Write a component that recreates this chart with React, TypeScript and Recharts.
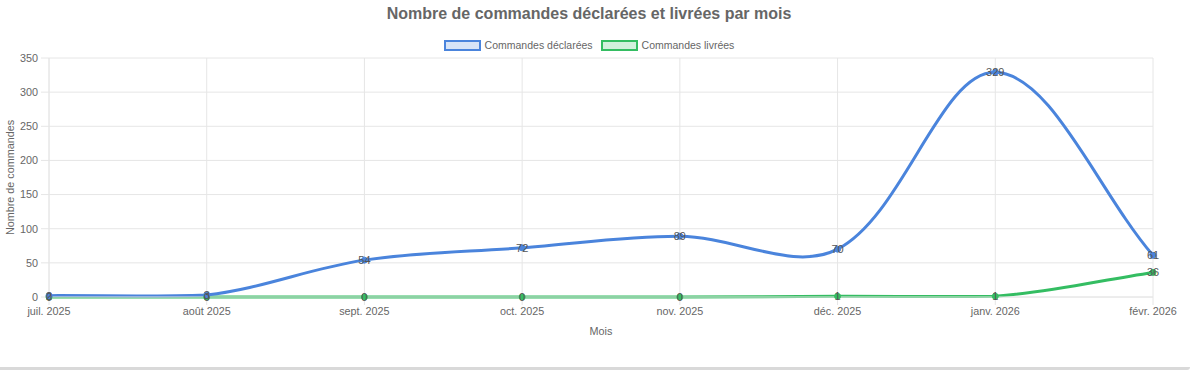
import { LineChart, Line, XAxis, YAxis, CartesianGrid } from 'recharts'

const months = ['juil. 2025', 'août 2025', 'sept. 2025', 'oct. 2025', 'nov. 2025', 'déc. 2025', 'janv. 2026', 'févr. 2026']
const declared = [2, 3, 54, 72, 89, 70, 329, 61]
const delivered = [0, 0, 0, 0, 0, 1, 1, 36]
const yTicks = [0, 50, 100, 150, 200, 250, 300, 350]

const series = [
  { key: 'declared', name: 'Commandes déclarées', color: '#4a84dc', fill: 'rgba(74,132,220,0.22)' },
  { key: 'delivered', name: 'Commandes livrées', color: '#34bd62', fill: 'rgba(52,189,98,0.22)' },
]

const data = months.map((m, i) => ({ month: m, declared: declared[i], delivered: delivered[i] }))

const FONT = "'Liberation Sans', Arial, sans-serif"
const GRID = '#e6e6e6'
const TEXT = '#666'

const TOP = 58
const BOTTOM_AXIS = 40
const BOTTOM_MARGIN = 33
const HEIGHT = 370
const PLOT_BOTTOM = HEIGHT - BOTTOM_MARGIN - BOTTOM_AXIS

// chart.js style spline (tension + capped control points)
function splineCurve(tension: number, minY: number, maxY: number) {
  return (context: any) => {
    let xs: number[] = []
    let ys: number[] = []
    return {
      areaStart() {},
      areaEnd() {},
      lineStart() {
        xs = []
        ys = []
      },
      point(x: number, y: number) {
        xs.push(+x)
        ys.push(+y)
      },
      lineEnd() {
        const n = xs.length
        if (!n) return
        const c1x: number[] = [], c1y: number[] = [], c2x: number[] = [], c2y: number[] = []
        for (let i = 0; i < n; i++) {
          const p = Math.max(i - 1, 0)
          const q = Math.min(i + 1, n - 1)
          const d01 = Math.hypot(xs[i] - xs[p], ys[i] - ys[p])
          const d12 = Math.hypot(xs[q] - xs[i], ys[q] - ys[i])
          let s01 = d01 / (d01 + d12)
          let s12 = d12 / (d01 + d12)
          if (isNaN(s01)) s01 = 0
          if (isNaN(s12)) s12 = 0
          const fa = tension * s01
          const fb = tension * s12
          const clamp = (v: number) => Math.min(Math.max(v, minY), maxY)
          c1x[i] = xs[i] - fa * (xs[q] - xs[p])
          c1y[i] = clamp(ys[i] - fa * (ys[q] - ys[p]))
          c2x[i] = xs[i] + fb * (xs[q] - xs[p])
          c2y[i] = clamp(ys[i] + fb * (ys[q] - ys[p]))
        }
        context.moveTo(xs[0], ys[0])
        for (let i = 1; i < n; i++) {
          context.bezierCurveTo(c2x[i - 1], c2y[i - 1], c1x[i], c1y[i], xs[i], ys[i])
        }
      },
    }
  }
}

const curve = splineCurve(0.35, TOP, PLOT_BOTTOM)

const renderValue = (props: any) => {
  const { x, y, value, index } = props
  return (
    <text
      key={index}
      x={x}
      y={y}
      textAnchor="middle"
      dominantBaseline="central"
      fontSize={11}
      fontFamily={FONT}
      fill="#555"
    >
      {value}
    </text>
  )
}

const tickStyle = { fontSize: 10.8, fill: TEXT, fontFamily: FONT }

export default function App() {
  return (
    <div style={{ position: 'absolute', left: 0, top: 0, width: 1200, height: HEIGHT, background: '#fff', fontFamily: FONT }}>
      <div
        style={{
          position: 'absolute',
          left: 0,
          top: 4,
          width: 1178,
          textAlign: 'center',
          fontSize: 16,
          fontWeight: 'bold',
          color: TEXT,
          lineHeight: '20px',
        }}
      >
        Nombre de commandes déclarées et livrées par mois
      </div>
      <div
        style={{
          position: 'absolute',
          left: 0,
          top: 38,
          width: 1178,
          display: 'flex',
          justifyContent: 'center',
          alignItems: 'center',
          fontSize: 10.5,
          color: TEXT,
          gap: 8,
          height: 14,
        }}
      >
        {series.map((s) => (
          <div key={s.key} style={{ display: 'flex', alignItems: 'center', gap: 4 }}>
            <span
              style={{
                display: 'inline-block',
                width: 37,
                height: 11,
                boxSizing: 'border-box',
                border: `2.5px solid ${s.color}`,
                background: s.fill,
              }}
            />
            <span>{s.name}</span>
          </div>
        ))}
      </div>
      <div style={{ position: 'absolute', left: 0, top: 0 }}>
        <LineChart
          width={1200}
          height={HEIGHT}
          data={data}
          margin={{ top: TOP, right: 47, bottom: BOTTOM_MARGIN, left: 0 }}
        >
          <CartesianGrid stroke={GRID} />
          <XAxis
            dataKey="month"
            height={BOTTOM_AXIS}
            interval={0}
            tick={tickStyle}
            tickSize={8}
            tickMargin={2}
            tickLine={{ stroke: GRID }}
            axisLine={{ stroke: GRID }}
            label={{ value: 'Mois', position: 'insideBottom', offset: 2, style: { fontSize: 10.8, fill: TEXT, fontFamily: FONT } }}
          />
          <YAxis
            width={49}
            domain={[0, 350]}
            ticks={yTicks}
            interval={0}
            tick={tickStyle}
            tickSize={8}
            tickMargin={3}
            tickLine={{ stroke: GRID }}
            axisLine={{ stroke: GRID }}
            label={{
              value: 'Nombre de commandes',
              angle: -90,
              position: 'insideLeft',
              offset: 10,
              style: { fontSize: 10.8, fill: TEXT, fontFamily: FONT, textAnchor: 'middle' },
            }}
          />
          <Line
            dataKey="delivered"
            type={curve as any}
            stroke={series[1].color}
            strokeWidth={3}
            dot={{ r: 3, fill: series[1].color, stroke: series[1].color, strokeWidth: 1 }}
            label={renderValue}
            isAnimationActive={false}
          />
          <Line
            dataKey="declared"
            type={curve as any}
            stroke={series[0].color}
            strokeWidth={3}
            dot={{ r: 3, fill: series[0].color, stroke: series[0].color, strokeWidth: 1 }}
            label={renderValue}
            isAnimationActive={false}
          />
        </LineChart>
      </div>
      <div
        style={{
          position: 'absolute',
          left: 0,
          top: 367,
          width: 1190,
          height: 3,
          background: '#d9d9d9',
          borderBottomRightRadius: 4,
        }}
      />
    </div>
  )
}
